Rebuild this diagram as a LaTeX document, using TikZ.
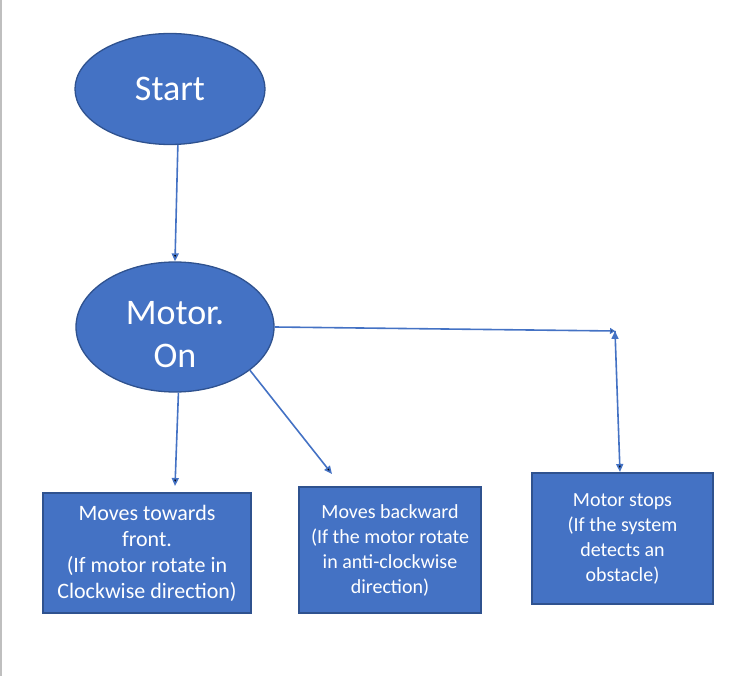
\documentclass[tikz,border=0pt]{standalone}
\usepackage{fontspec}
\setmainfont{Carlito}
\usetikzlibrary{shapes.geometric, arrows.meta}

\definecolor{officeblue}{HTML}{4472C4}
\definecolor{officeedge}{HTML}{2F528F}

\begin{document}
\begin{tikzpicture}[x=1pt, y=-1pt]

        % Setup the styles for the shapes
        \tikzset{oval style/.style={ellipse,
                                    draw=officeedge,
                                    line width=1.3pt,
                                    fill=officeblue,
                                    text=white,
                                    inner sep=0pt,
                                    align=center,
                                    font=\fontsize{36}{43}\selectfont},
                 box style/.style={rectangle,
                                   draw=officeedge,
                                   line width=1.5pt,
                                   fill=officeblue,
                                   text=white,
                                   inner sep=0pt,
                                   align=center,
                                   font=\fontsize{20}{25}\selectfont}}

        \useasboundingbox (0,0) rectangle (750,676);
        \draw[black!25, line width=1.5pt] (1,0) -- (1,676);

        % Draw the shapes
        \node[oval style, minimum width=190pt, minimum height=111pt] at (170,89) (start) {Start};
        \node[oval style, minimum width=198pt, minimum height=130pt] at (175,327) (motor)
              {\rule{0pt}{39pt}Motor.\\On};
        \node[box style, minimum width=208pt, minimum height=120pt,
              font=\fontsize{22}{26}\selectfont] at (147,553) (front)
              {Moves towards\\front.\\(If motor rotate in\\Clockwise direction)};
        \node[box style, minimum width=182pt, minimum height=126pt] at (390,550) (back)
              {Moves backward\\(If the motor rotate\\in anti-clockwise\\direction)};
        \node[box style, minimum width=181pt, minimum height=131pt] at (622.5,538.5) (stop)
              {Motor stops\\(If the system\\detects an\\obstacle)};

        % Free ends of the arrows
        \coordinate (frontTip) at (175,486);
        \coordinate (backTip)  at (332,474);
        \coordinate (corner)   at (615,331);
        \coordinate (stopTip)  at (620,472);

        % Connect the shapes with arrows
        \draw[line width=1.6pt,
              draw=officeblue,
              -{Triangle[width=7pt, length=8pt]}]
            (start.-82) edge (motor.north)
            (motor.-87) edge (frontTip)
            (motor.-30) edge (backTip)
            (motor.east) edge[-{Triangle[width=6pt, length=5pt]}] (corner)
            (corner)    edge (stopTip);
    \end{tikzpicture}
\end{document}
